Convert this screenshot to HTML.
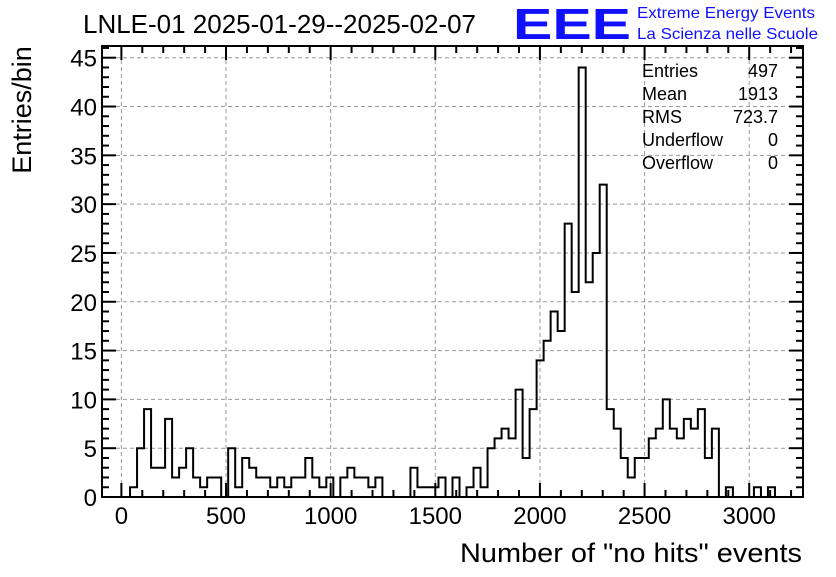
<!DOCTYPE html>
<html><head><meta charset="utf-8"><style>
body{margin:0;background:#fff;}
svg text{font-family:"Liberation Sans",sans-serif;}
</style></head><body>
<svg id="chart" width="836" height="572" viewBox="0 0 836 572" xmlns="http://www.w3.org/2000/svg">
<rect width="836" height="572" fill="#fff"/>
<text x="83" y="33" font-size="26" textLength="393" lengthAdjust="spacingAndGlyphs">LNLE-01 2025-01-29--2025-02-07</text>
<text x="513" y="39" font-size="44" font-weight="bold" fill="#1010ff" textLength="118" lengthAdjust="spacingAndGlyphs">EEE</text>
<text x="637" y="18" font-size="16" fill="#1010ff" textLength="178" lengthAdjust="spacingAndGlyphs">Extreme Energy Events</text>
<text x="637" y="39" font-size="16" fill="#1010ff" textLength="181" lengthAdjust="spacingAndGlyphs">La Scienza nelle Scuole</text>
<g id="grid"></g>
<g id="hist"></g>
<g id="axes"></g>
<g font-size="18">
<text x="642" y="77">Entries</text><text x="778" y="77" text-anchor="end">497</text>
<text x="642" y="100">Mean</text><text x="778" y="100" text-anchor="end">1913</text>
<text x="642" y="123">RMS</text><text x="778" y="123" text-anchor="end">723.7</text>
<text x="642" y="146">Underflow</text><text x="778" y="146" text-anchor="end">0</text>
<text x="642" y="169">Overflow</text><text x="778" y="169" text-anchor="end">0</text>
</g>
<text transform="translate(31,110) rotate(-90)" text-anchor="middle" font-size="27">Entries/bin</text>
<text x="460" y="562" font-size="27" textLength="342" lengthAdjust="spacingAndGlyphs">Number of "no hits" events</text>
</svg>
<script>
const counts = [0,0,0,0,1,5,9,3,3,8,2,3,5,2,1,2,2,0,5,1,4,3,2,2,1,2,1,2,2,4,2,1,2,0,2,3,2,2,1,2,0,0,0,0,3,1,1,1,2,0,2,0,1,3,1,5,6,7,6,11,4,9,14,16,19,17,28,21,44,22,25,32,9,7,4,2,4,4,6,7,10,7,6,8,7,9,4,7,0,1,0,0,0,1,0,1,0,0,0,0];
const xTicks = [0,500,1000,1500,2000,2500,3000];
const yTicks = [0,5,10,15,20,25,30,35,40,45];
const xMin = -92.6, xMax = 3257;
const yMax = 46.2;
const L=102,R=803,T=46,B=497;
const NS='http://www.w3.org/2000/svg';
function sx(v){return L+(v-xMin)/(xMax-xMin)*(R-L);}
function sy(v){return B-v/yMax*(B-T);}
function mk(tag,attrs,parent){const e=document.createElementNS(NS,tag);for(const k in attrs)e.setAttribute(k,attrs[k]);parent.appendChild(e);return e;}
const grid=document.getElementById('grid'),hist=document.getElementById('hist'),axes=document.getElementById('axes');
xTicks.forEach(v=>{const l=mk('line',{x1:sx(v),x2:sx(v),y1:T,y2:B,stroke:'#999','stroke-dasharray':'4,3','stroke-width':1},grid);

});
yTicks.forEach(v=>{const l=mk('line',{x1:L,x2:R,y1:sy(v),y2:sy(v),stroke:'#999','stroke-dasharray':'4,3','stroke-width':1},grid);

});
const bw=(xMax-xMin)/counts.length;
let d='M'+sx(xMin)+','+sy(0);
counts.forEach((c,i)=>{const x0=sx(xMin+i*bw),x1=sx(xMin+(i+1)*bw);d+=' L'+x0+','+sy(c)+' L'+x1+','+sy(c);});
d+=' L'+sx(xMax)+','+sy(0);
const p=mk('path',{d:d,fill:'none',stroke:'#000','stroke-width':2},hist);


const fr=mk('rect',{x:L,y:T,width:R-L,height:B-T,fill:'none',stroke:'#000','stroke-width':2},axes);


for(let v=-100;v<=3200;v+=100){if(v<xMin||v>xMax)continue;const len=(v%500===0)?14:7;
mk('line',{x1:sx(v),x2:sx(v),y1:B,y2:B-len,stroke:'#000','stroke-width':2},axes);
mk('line',{x1:sx(v),x2:sx(v),y1:T,y2:T+len,stroke:'#000','stroke-width':2},axes);}
for(let v=0;v<=46;v++){const len=(v%5===0)?14:7;
mk('line',{x1:L,x2:L+len,y1:sy(v),y2:sy(v),stroke:'#000','stroke-width':2},axes);
mk('line',{x1:R,x2:R-len,y1:sy(v),y2:sy(v),stroke:'#000','stroke-width':2},axes);}
xTicks.forEach(v=>{const t=mk('text',{x:sx(v),y:524,'text-anchor':'middle','font-size':24},axes);t.textContent=v;

});
yTicks.forEach(v=>{const t=mk('text',{x:97,y:sy(v)+9,'text-anchor':'end','font-size':24},axes);t.textContent=v;

});
</script>
</body></html>
